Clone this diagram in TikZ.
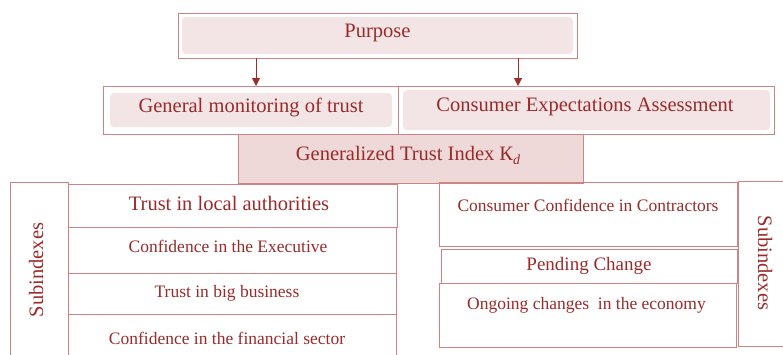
\documentclass[tikz,border=0pt]{standalone}
\usepackage{fontspec}
\setmainfont{Liberation Serif}
\usetikzlibrary{arrows.meta}
\definecolor{txtc}{RGB}{155,42,42}
\definecolor{brdc}{RGB}{206,132,132}
\definecolor{fillc}{RGB}{243,229,229}
\definecolor{fillg}{RGB}{238,216,216}
\definecolor{arrc}{RGB}{160,45,45}
\newcommand{\bigf}{\fontsize{20.5}{22}\selectfont}
\newcommand{\smf}{\fontsize{17.5}{19}\selectfont}
\tikzset{
  x=1pt, y=-1pt,
  bx/.style={draw=brdc, line width=0.9pt, rectangle, inner sep=0pt, outer sep=0pt},
  inner/.style={fill=fillc, rounded corners=4pt, draw=none},
  lbl/.style={text=txtc, inner sep=0pt, anchor=center},
  arr/.style={draw=arrc, line width=1pt, -{Triangle[width=8pt,length=8pt]}},
}
\begin{document}
\begin{tikzpicture}
\useasboundingbox (0,0) rectangle (783,354);
\clip (0,0) rectangle (783,354);
% Purpose
\node[bx, minimum width=399, minimum height=45] (purpose) at (377.5,35.5) {};
\fill[inner] ([shift={(4,4)}]purpose.north west) rectangle ([shift={(-4,-4)}]purpose.south east);
\node[lbl, font=\bigf] (tpurpose) at (377.5,33) {Purpose};
% second row
\node[bx, minimum width=295, minimum height=48] (gm) at (250.5,110) {};
\fill[inner] ([shift={(7,7)}]gm.north west) rectangle ([shift={(-6,-7)}]gm.south east);
\node[lbl, font=\bigf] (tgm) at (251,107) {General monitoring of trust};
\node[bx, minimum width=376, minimum height=48] (ce) at (586,110) {};
\fill[inner] ([shift={(5,4)}]ce.north west) rectangle ([shift={(-4,-4)}]ce.south east);
\node[lbl, font=\bigf] (tce) at (585,107) {Consumer Expectations Assessment};
% arrows
\draw[arr] ([xshift=5.5pt]gm.north |- purpose.south) -- ([xshift=5.5pt]gm.north);
\draw[arr] ([xshift=-68pt]ce.north |- purpose.south) -- ([xshift=-68pt]ce.north);
% generalized
\node[bx, fill=fillg, minimum width=345, minimum height=49] (gti) at (410.5,158.5) {};
\node[lbl, font=\bigf] (tgti) at (408,155.5) {Generalized Trust Index К\raisebox{-0.45ex}{\fontsize{14}{14}\selectfont\itshape d}};
% left block
\node[bx, minimum width=58, minimum height=180] (subl) at (39,272) {};
\node[lbl, font=\bigf, rotate=90] (tsubl) at (36,270) {Subindexes};
\node[bx, minimum width=329, minimum height=43] (tla) at (232.5,205.5) {};
\node[lbl, font=\bigf] (ttla) at (229,203) {Trust in local authorities};
\node[bx, minimum width=328, minimum height=46] (cex) at (232,250) {};
\node[lbl, font=\smf] (tcex) at (228,246) {Confidence in the Executive};
\node[bx, minimum width=328, minimum height=41] (tbb) at (232,293.5) {};
\node[lbl, font=\smf] (ttbb) at (227,293) {Trust in big business};
\node[bx, minimum width=328, minimum height=50] (cfs) at (232,339) {};
\node[lbl, font=\smf] (tcfs) at (227,338) {Confidence in the financial sector};
% right block
\node[bx, minimum width=298, minimum height=64] (ccc) at (588,214) {};
\node[lbl, font=\smf] (tccc) at (588,205) {Consumer Confidence in Contractors};
\node[bx, minimum width=296, minimum height=34] (pc) at (589,266) {};
\node[lbl, font=\fontsize{19}{20}\selectfont] (tpc) at (589,266) {Pending Change};
\node[bx, minimum width=297, minimum height=64] (oc) at (587.5,315) {};
\node[lbl, font=\smf] (toc) at (586.5,305) {Ongoing changes\ \ in the economy};
\node[bx, minimum width=54, minimum height=165] (subr) at (765,263.5) {};
\node[lbl, font=\bigf, rotate=-90] (tsubr) at (765,263) {Subindexes};
\end{tikzpicture}
\end{document}
